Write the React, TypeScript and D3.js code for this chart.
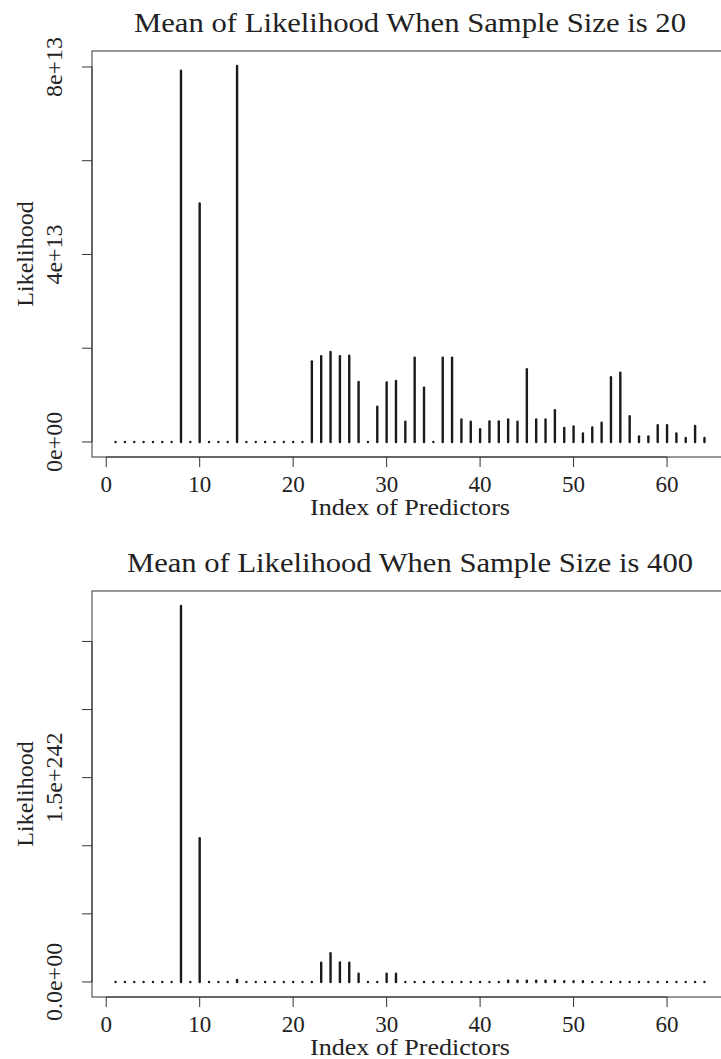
import * as d3 from "d3";

const predictors = d3.range(1, 65);

// mean likelihood, n = 20 (units of 1e13)
const like20 = [
  0, 0, 0, 0, 0, 0, 0, 7.92, 0, 5.09, 0, 0, 0, 8.02, 0, 0,
  0, 0, 0, 0, 0, 1.72, 1.83, 1.92, 1.83, 1.84, 1.28, 0, 0.75, 1.27, 1.3, 0.43,
  1.8, 1.16, 0, 1.8, 1.8, 0.48, 0.43, 0.27, 0.44, 0.44, 0.48, 0.43, 1.55, 0.48, 0.48, 0.675,
  0.3, 0.33, 0.18, 0.31, 0.41, 1.38, 1.48, 0.55, 0.12, 0.12, 0.36, 0.36, 0.18, 0.085, 0.34, 0.085,
];

// mean likelihood, n = 400 (units of 1e242)
const like400 = [
  0, 0, 0, 0, 0, 0, 0, 2.76, 0, 1.056, 0, 0, 0, 0.015, 0, 0,
  0, 0, 0, 0, 0, 0, 0.142, 0.212, 0.144, 0.142, 0.061, 0, 0, 0.061, 0.061, 0,
  0, 0, 0, 0, 0, 0, 0, 0, 0, 0, 0.01, 0.01, 0.01, 0.01, 0.01, 0.01,
  0.006, 0.006, 0.006, 0, 0, 0, 0, 0, 0, 0, 0, 0, 0, 0, 0, 0,
];

const xTicks = [0, 10, 20, 30, 40, 50, 60];
const yTicks20 = [0, 2, 4, 6, 8];
const yLabels20 = [
  { v: 0, t: "0e+00" },
  { v: 4, t: "4e+13" },
  { v: 8, t: "8e+13" },
];
const yTicks400 = [0, 0.5, 1, 1.5, 2, 2.5];
const yLabels400 = [
  { v: 0, t: "0.0e+00" },
  { v: 1.5, t: "1.5e+242" },
];

const FONT = "'Liberation Serif', 'DejaVu Serif', serif";
const box = { left: 92, right: 728, top: 51, bottom: 457 };

type PanelProps = {
  title: string;
  values: number[];
  yTicks: number[];
  yLabels: { v: number; t: string }[];
  dy: number;
};

const Panel = ({ title, values, yTicks, yLabels, dy }: PanelProps) => {
  const ext = 0.04 * (64 - 1);
  const x = d3.scaleLinear().domain([1 - ext, 64 + ext]).range([box.left, box.right]);
  const ymax = d3.max(values)!;
  const y = d3.scaleLinear().domain([-0.04 * ymax, 1.04 * ymax]).range([box.bottom, box.top]);
  const cx = (box.left + box.right) / 2;
  const cy = (box.top + box.bottom) / 2;

  return (
    <g transform={`translate(0,${dy})`} fontFamily={FONT} fill="#222">
      <text x={cx} y={32} textAnchor="middle" fontSize={28}
        textLength={title.endsWith("400") ? 566 : 552} lengthAdjust="spacingAndGlyphs">{title}</text>
      <rect x={box.left} y={box.top} width={box.right - box.left} height={box.bottom - box.top}
        fill="none" stroke="#555" strokeWidth={1.2} />

      {predictors.map((p, i) => (
        <line key={p} x1={x(p)} x2={x(p)} y1={y(0)} y2={y(values[i])}
          stroke="#1a1a1a" strokeWidth={2.4} strokeLinecap="round" />
      ))}

      {/* x axis */}
      <line x1={x(0)} x2={x(60)} y1={box.bottom} y2={box.bottom} stroke="#333" strokeWidth={1} />
      {xTicks.map(t => (
        <g key={t}>
          <line x1={x(t)} x2={x(t)} y1={box.bottom} y2={box.bottom + 10} stroke="#333" />
          <text x={x(t)} y={492} textAnchor="middle" fontSize={23}>{t}</text>
        </g>
      ))}
      <text x={cx} y={515} textAnchor="middle" fontSize={23}
        textLength={200} lengthAdjust="spacingAndGlyphs">Index of Predictors</text>

      {/* y axis */}
      <line x1={box.left} x2={box.left} y1={y(yTicks[0])} y2={y(yTicks[yTicks.length - 1])} stroke="#333" />
      {yTicks.map(t => (
        <line key={t} x1={box.left - 10} x2={box.left} y1={y(t)} y2={y(t)} stroke="#333" />
      ))}
      {yLabels.map(l => (
        <text key={l.t} transform={`translate(62,${y(l.v)}) rotate(-90)`} textAnchor="middle" fontSize={24}>
          {l.t}
        </text>
      ))}
      <text transform={`translate(33,${cy}) rotate(-90)`} textAnchor="middle" fontSize={24}>Likelihood</text>
    </g>
  );
};

const App = () => (
  <svg width={721} height={1059} style={{ position: "absolute", left: 0, top: 0, background: "#fff" }}>
    <Panel title="Mean of Likelihood When Sample Size is 20" values={like20}
      yTicks={yTicks20} yLabels={yLabels20} dy={0} />
    <Panel title="Mean of Likelihood When Sample Size is 400" values={like400}
      yTicks={yTicks400} yLabels={yLabels400} dy={540} />
  </svg>
);

export default App;
